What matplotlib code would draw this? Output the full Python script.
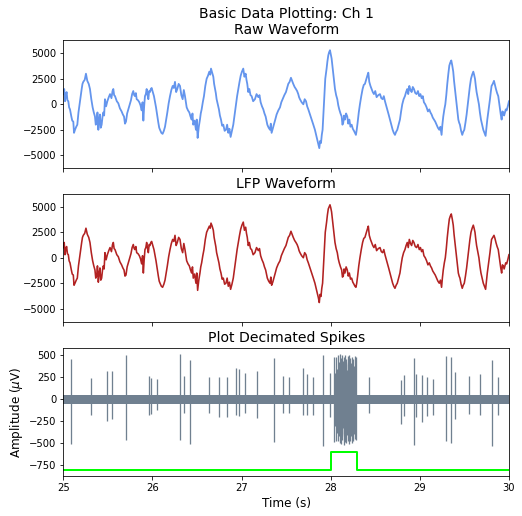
import matplotlib.pyplot as plt

# sample times (s) and raw channel values (uV)
t_wave = [25.000, 25.010, 25.019, 25.028, 25.037, 25.046, 25.056, 25.065, 25.075, 25.090,
          25.100, 25.112, 25.120, 25.131, 25.145, 25.157, 25.170, 25.187, 25.206, 25.215,
          25.224, 25.240, 25.254, 25.269, 25.285, 25.299, 25.314, 25.329, 25.342, 25.355,
          25.364, 25.374, 25.383, 25.393, 25.402, 25.411, 25.420, 25.430, 25.440, 25.449,
          25.458, 25.467, 25.480, 25.494, 25.510, 25.524, 25.540, 25.552, 25.561, 25.570,
          25.580, 25.600, 25.617, 25.635, 25.654, 25.668, 25.681, 25.692, 25.703, 25.716,
          25.729, 25.745, 25.759, 25.772, 25.785, 25.795, 25.804, 25.814, 25.823, 25.838,
          25.853, 25.866, 25.879, 25.889, 25.898, 25.907, 25.916, 25.926, 25.935, 25.945,
          25.954, 25.963, 25.972, 25.982, 25.991, 26.004, 26.017, 26.028, 26.040, 26.052,
          26.066, 26.076, 26.085, 26.100, 26.114, 26.128, 26.141, 26.154, 26.167, 26.182,
          26.197, 26.212, 26.227, 26.240, 26.253, 26.266, 26.279, 26.294, 26.309, 26.324,
          26.339, 26.352, 26.365, 26.375, 26.384, 26.399, 26.414, 26.427, 26.440, 26.449,
          26.458, 26.473, 26.488, 26.497, 26.507, 26.520, 26.533, 26.542, 26.552, 26.565,
          26.578, 26.593, 26.608, 26.623, 26.638, 26.648, 26.657, 26.670, 26.683, 26.692,
          26.702, 26.711, 26.720, 26.733, 26.746, 26.757, 26.769, 26.782, 26.795, 26.810,
          26.825, 26.838, 26.851, 26.864, 26.877, 26.892, 26.907, 26.922, 26.937, 26.950,
          26.963, 26.977, 26.990, 27.004, 27.019, 27.032, 27.046, 27.055, 27.064, 27.075,
          27.087, 27.100, 27.113, 27.130, 27.150, 27.168, 27.188, 27.201, 27.214, 27.229,
          27.244, 27.257, 27.270, 27.280, 27.289, 27.304, 27.319, 27.328, 27.337, 27.350,
          27.363, 27.378, 27.393, 27.412, 27.431, 27.446, 27.461, 27.480, 27.498, 27.511,
          27.524, 27.539, 27.554, 27.567, 27.580, 27.595, 27.610, 27.623, 27.636, 27.645,
          27.655, 27.674, 27.693, 27.708, 27.723, 27.736, 27.749, 27.768, 27.786, 27.805,
          27.823, 27.836, 27.850, 27.861, 27.872, 27.881, 27.891, 27.900, 27.909, 27.924,
          27.939, 27.954, 27.963, 27.973, 27.982, 27.992, 28.001, 28.010, 28.020, 28.029,
          28.038, 28.048, 28.061, 28.074, 28.085, 28.096, 28.110, 28.123, 28.132, 28.141,
          28.150, 28.160, 28.173, 28.186, 28.197, 28.209, 28.222, 28.235, 28.248, 28.261,
          28.272, 28.283, 28.292, 28.302, 28.315, 28.328, 28.343, 28.358, 28.371, 28.384,
          28.397, 28.411, 28.422, 28.433, 28.446, 28.459, 28.472, 28.485, 28.500, 28.515,
          28.534, 28.553, 28.568, 28.583, 28.596, 28.609, 28.622, 28.635, 28.650, 28.665,
          28.680, 28.695, 28.708, 28.721, 28.734, 28.747, 28.762, 28.777, 28.790, 28.803,
          28.818, 28.833, 28.846, 28.859, 28.870, 28.882, 28.895, 28.908, 28.921, 28.934,
          28.949, 28.964, 28.979, 28.994, 29.007, 29.020, 29.033, 29.046, 29.061, 29.076,
          29.091, 29.106, 29.119, 29.132, 29.145, 29.159, 29.173, 29.188, 29.203, 29.218,
          29.231, 29.244, 29.253, 29.263, 29.275, 29.286, 29.297, 29.308, 29.320, 29.331,
          29.342, 29.353, 29.364, 29.375, 29.384, 29.394, 29.404, 29.413, 29.422, 29.432,
          29.441, 29.450, 29.463, 29.476, 29.487, 29.499, 29.512, 29.525, 29.538, 29.551,
          29.562, 29.574, 29.587, 29.600, 29.609, 29.619, 29.628, 29.637, 29.650, 29.663,
          29.674, 29.686, 29.699, 29.712, 29.725, 29.738, 29.747, 29.757, 29.772, 29.787,
          29.796, 29.805, 29.818, 29.832, 29.843, 29.854, 29.867, 29.880, 29.889, 29.899,
          29.908, 29.918, 29.927, 29.937, 29.946, 29.955, 29.964, 29.974, 29.987, 30.000]

raw_uv = [1000, 1500, 300, 900, 1200, 400, 300, -300, -500, -1200,
          -1600, -1700, -2800, -2500, -2200, -2000, -800, 300, 1500, 2000,
          2200, 2400, 3000, 2300, 2000, 1500, 500, -300, -800, -1200,
          -2000, -1800, -800, -2500, -1500, -1000, -2300, -2000, -1200, -800,
          -1100, 500, -200, 300, 700, 1000, 600, 1300, 1500, 900,
          800, 300, 100, -400, -700, -1000, -1200, -1900, -1700, -900,
          -500, 0, 400, 1000, 1300, 900, 800, 1100, 500, 400,
          200, -100, -600, 200, -1600, -200, 800, 1000, 1500, 900,
          500, 1300, 1200, 1500, 1600, 1200, 800, 300, -300, -1000,
          -1800, -2300, -2500, -2800, -2900, -2600, -2200, -1500, -800, 100,
          800, 1400, 1800, 1600, 2200, 1200, 1500, 2000, 1800, 900,
          500, 1400, 800, 200, -300, -600, -800, -1200, -1500, -900,
          -2000, -1600, -2500, -1500, -3300, -2200, -1500, -900, -500, 200,
          800, 1800, 2500, 2800, 3200, 2900, 3500, 3100, 2700, 2000,
          1500, 1100, 500, 0, -500, -1100, -1500, -2100, -2000, -2600,
          -2500, -2000, -2800, -2400, -3200, -2600, -2000, -1000, 0, 800,
          1500, 2200, 2800, 3200, 3500, 2700, 3000, 2400, 2000, 1200,
          1500, 900, 800, 300, 500, 1000, 700, 900, 200, -200,
          -500, -900, -1200, -1600, -2000, -2300, -2500, -1900, -2800, -2400,
          -2000, -1500, -1000, -600, -300, 200, 500, 900, 1200, 1600,
          2000, 2200, 2600, 2300, 2000, 1700, 1500, 1300, 1000, 700,
          500, 200, 0, 500, 300, -200, -500, -1000, -1500, -2000,
          -2500, -3000, -3500, -3900, -4300, -3600, -3800, -3000, -2500, 0,
          2500, 3500, 4200, 4800, 5100, 5300, 4900, 4500, 3700, 3000,
          2300, 1500, 900, 500, -100, -500, -900, -1200, -2000, -1800,
          -1100, -1500, -900, -1200, -1900, -1500, -2200, -2000, -2400, -2600,
          -2800, -3000, -2500, -1800, -800, 0, 800, 1500, 1900, 2000,
          2400, 2800, 3100, 2200, 1800, 1500, 1200, 1000, 1300, 700,
          900, 1000, 600, 500, 800, 300, -100, -500, -1000, -1500,
          -2000, -2500, -2800, -3000, -2700, -2500, -2000, -1500, -700, 0,
          500, 800, 1200, 1500, 1000, 1800, 1400, 1200, 1700, 1500,
          1100, 1000, 1300, 800, 1000, 600, 800, 200, 0, -300,
          -700, -500, -800, -1000, -1300, -1500, -1700, -2000, -2300, -2500,
          -2200, -3000, -2000, -1200, -500, 0, 900, 2000, 3000, 3800,
          4100, 4300, 3800, 3200, 2300, 1500, 700, 0, -800, -1500,
          -1800, -2000, -2600, -3000, -2700, -2500, -1800, -1000, 0, 1000,
          1800, 2500, 2900, 3200, 2900, 2500, 1800, 1200, 600, 0,
          -800, -1500, -2000, -2500, -2800, -3100, -2300, -1500, -500, 500,
          1200, 1800, 2000, 2300, 1900, 1500, 1100, 800, 200, -500,
          -1000, -1500, -700, -800, -1100, -800, -500, -600, -200, 300]

# LFP channel reads the same as the raw one at this scale, peaks a touch lower
lfp_uv = [1000, 1500, 300, 900, 1100, 400, 300, -300, -500, -1200,
          -1600, -1700, -2700, -2500, -2200, -2000, -800, 300, 1500, 2000,
          2200, 2400, 2900, 2300, 2000, 1500, 500, -300, -800, -1200,
          -2000, -1800, -800, -2400, -1500, -1000, -2200, -2000, -1200, -800,
          -1100, 500, -200, 300, 700, 1000, 600, 1300, 1500, 900,
          800, 300, 100, -400, -700, -1000, -1200, -1800, -1700, -900,
          -500, 0, 400, 1000, 1300, 900, 800, 1100, 500, 400,
          200, -100, -600, 200, -1500, -200, 800, 1000, 1500, 900,
          500, 1300, 1200, 1500, 1600, 1200, 800, 300, -300, -1000,
          -1800, -2300, -2500, -2800, -2900, -2600, -2200, -1500, -800, 100,
          800, 1400, 1800, 1600, 2200, 1200, 1500, 2000, 1800, 900,
          500, 1400, 800, 200, -300, -600, -800, -1200, -1500, -900,
          -2000, -1600, -2500, -1500, -3200, -2200, -1500, -900, -500, 200,
          800, 1800, 2500, 2800, 3100, 2900, 3400, 3100, 2700, 2000,
          1500, 1100, 500, 0, -500, -1100, -1500, -2100, -2000, -2600,
          -2500, -2000, -2800, -2400, -3100, -2600, -2000, -1000, 0, 800,
          1500, 2200, 2800, 3200, 3500, 2700, 3000, 2400, 2000, 1200,
          1500, 900, 800, 300, 500, 1000, 700, 900, 200, -200,
          -500, -900, -1200, -1600, -2000, -2300, -2500, -1900, -2700, -2400,
          -2000, -1500, -1000, -600, -300, 200, 500, 900, 1200, 1600,
          2000, 2200, 2600, 2300, 2000, 1700, 1500, 1300, 1000, 700,
          500, 200, 0, 500, 300, -200, -500, -1000, -1500, -2000,
          -2500, -3000, -3500, -3900, -4400, -3600, -3800, -3000, -2500, 0,
          2500, 3500, 4200, 4800, 5000, 5200, 4900, 4500, 3700, 3000,
          2300, 1500, 900, 500, -100, -500, -900, -1200, -1900, -1800,
          -1100, -1500, -900, -1200, -1800, -1500, -2100, -2000, -2400, -2600,
          -2800, -2900, -2500, -1800, -800, 0, 800, 1500, 1900, 2000,
          2400, 2800, 3100, 2200, 1800, 1500, 1200, 1000, 1300, 700,
          900, 1000, 600, 500, 800, 300, -100, -500, -1000, -1500,
          -2000, -2500, -2800, -3000, -2700, -2500, -2000, -1500, -700, 0,
          500, 800, 1200, 1500, 1000, 1800, 1400, 1200, 1700, 1500,
          1100, 1000, 1300, 800, 1000, 600, 800, 200, 0, -300,
          -700, -500, -800, -1000, -1300, -1500, -1700, -2000, -2300, -2500,
          -2200, -2900, -2000, -1200, -500, 0, 900, 2000, 3000, 3800,
          4100, 4300, 3800, 3200, 2300, 1500, 700, 0, -800, -1500,
          -1800, -2000, -2600, -3000, -2700, -2500, -1800, -1000, 0, 1000,
          1800, 2500, 2900, 3200, 2900, 2500, 1800, 1200, 600, 0,
          -800, -1500, -2000, -2500, -2800, -3100, -2300, -1500, -500, 500,
          1200, 1800, 2000, 2200, 1900, 1500, 1100, 800, 200, -500,
          -1000, -1500, -700, -800, -1100, -800, -500, -600, -200, 300]

# spike events: time, positive peak, negative peak (uV)
spike_t = [25.082, 25.307, 25.486, 25.546, 25.699, 25.965, 25.980, 26.055, 26.309, 26.354,
           26.417, 26.634, 26.743, 26.832, 26.941, 26.975, 27.038, 27.173, 27.367, 27.468,
           27.535, 27.689, 27.730, 27.805, 27.917, 27.992, 28.040, 28.050, 28.060, 28.070,
           28.080, 28.090, 28.100, 28.107, 28.115, 28.122, 28.130, 28.137, 28.145, 28.152,
           28.160, 28.167, 28.175, 28.182, 28.190, 28.197, 28.205, 28.212, 28.220, 28.227,
           28.235, 28.242, 28.250, 28.260, 28.270, 28.278, 28.285, 28.426, 28.784, 28.826,
           28.938, 28.960, 29.020, 29.084, 29.151, 29.297, 29.346, 29.394, 29.555, 29.675,
           29.805, 29.880]
spike_hi = [458, 248, 328, 328, 500, 267, 240, 237, 511, 263,
            450, 256, 256, 256, 355, 344, 298, 321, 466, 267,
            252, 359, 294, 252, 504, 298, 485, 300, 480, 350,
            500, 420, 520, 380, 470, 300, 500, 440, 480, 350,
            510, 400, 460, 330, 490, 420, 500, 360, 470, 410,
            480, 300, 460, 380, 490, 300, 480, 256, 218, 282,
            466, 294, 275, 256, 237, 496, 485, 313, 267, 286,
            450, 256]
spike_lo = [-508, -183, -248, -221, -462, -176, -170, -126, -462, -153,
            -504, -153, -202, -206, -183, -191, -156, -210, -481, -156,
            -153, -183, -183, -183, -534, -202, -489, -300, -470, -380,
            -480, -420, -500, -350, -510, -400, -460, -330, -520, -420,
            -490, -360, -500, -410, -470, -380, -510, -300, -480, -420,
            -500, -360, -470, -400, -450, -330, -460, -153, -279, -191,
            -515, -202, -260, -191, -176, -470, -496, -221, -164, -183,
            -527, -176]

# background noise band of the spike channel
band_t = [25.0, 30.0]
band_hi = [55, 55]
band_lo = [-55, -55]

# stimulus marker
stim_t = [25.0, 28.0, 28.3, 30.0]
stim_level = [-800, -600, -800, -800]

fig, axs = plt.subplots(3, 1, sharex=True, figsize=(522 / 72, 516 / 72), dpi=72)
plt.subplots_adjust(left=0.1213, right=0.975, bottom=0.078, top=0.922, hspace=0.204)

ax = axs[0]
ax.plot(t_wave, raw_uv, color='cornflowerblue', lw=1.8)
ax.set_title('Basic Data Plotting: Ch 1\nRaw Waveform', fontsize=14)
ax.set_ylim(-6250, 6280)
ax.set_yticks([-5000, -2500, 0, 2500, 5000])

ax = axs[1]
ax.plot(t_wave, lfp_uv, color='firebrick', lw=1.6)
ax.set_title('LFP Waveform', fontsize=14)
ax.set_ylim(-6300, 6250)
ax.set_yticks([-5000, -2500, 0, 2500, 5000])

ax = axs[2]
ax.fill_between(band_t, band_lo, band_hi, color='slategray', lw=0)
ax.vlines(spike_t, spike_lo, spike_hi, color='slategray', lw=1.3)
ax.step(stim_t, stim_level, where='post', color='lime', lw=2)
ax.set_title('Plot Decimated Spikes', fontsize=14)
ax.set_ylim(-870, 585)
ax.set_yticks([-750, -500, -250, 0, 250, 500])
ax.set_xlim(25, 30)
ax.set_xlabel('Time (s)', fontsize=12)
ax.set_ylabel('Amplitude ($\\mu$V)', fontsize=12)

plt.savefig('out.png', dpi=72)
